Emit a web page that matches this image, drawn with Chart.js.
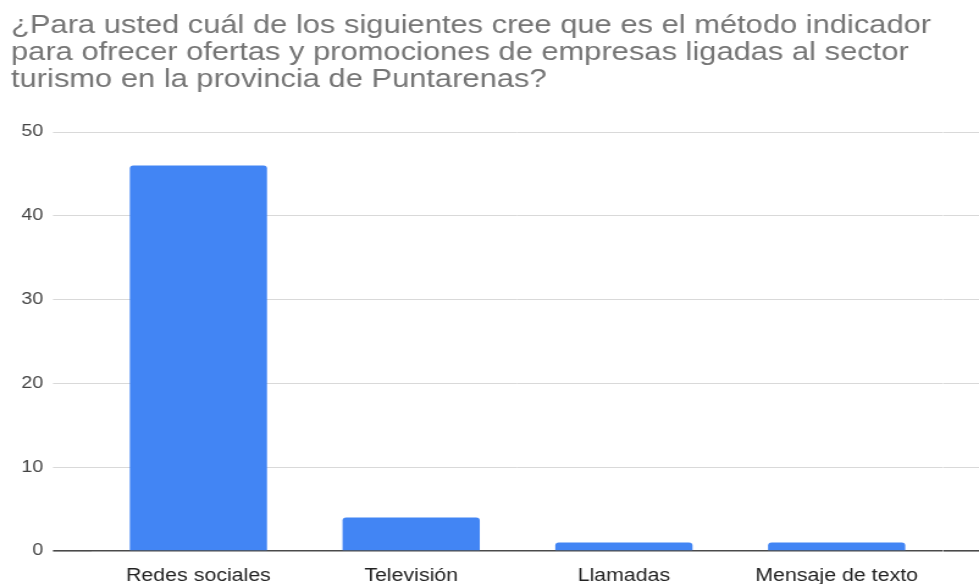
<!DOCTYPE html>
<html>
<head>
<meta charset="utf-8">
<script src="https://cdn.jsdelivr.net/npm/chart.js@4.4.1/dist/chart.umd.min.js"></script>
<style>
    html, body { margin: 0; padding: 0; background: #fff; overflow: hidden; }
    /* the chart is laid out narrower and stretched sideways to fill the page */
    #wrap { width: 802px; height: 584px; position: relative; transform: scaleX(1.2207); transform-origin: 0 0; }
</style>
</head>
<body>
<div id="wrap"><canvas id="metodoChart"></canvas></div>
<script>
const categorias = ['Redes sociales', 'Televisión', 'Llamadas', 'Mensaje de texto'];
const respuestas = [46, 4, 1, 1];
const ticksY = [0, 10, 20, 30, 40, 50];
const tituloLineas = [
    '¿Para usted cuál de los siguientes cree que es el método indicador',
    'para ofrecer ofertas y promociones de empresas ligadas al sector',
    'turismo en la provincia de Puntarenas?'
];

const fuente = '"Liberation Sans", Arial, sans-serif';
// the zero line is darker than the rest of the grid
const esCero = ctx => ctx.tick && ctx.tick.value === 0;
const gridColor = ctx => esCero(ctx) ? '#4a4a4a' : '#d9d9d9';
const gridWidth = ctx => esCero(ctx) ? 1.6 : 1;

document.addEventListener('DOMContentLoaded', function () {
    const ctx = document.getElementById('metodoChart').getContext('2d');

    new Chart(ctx, {
        type: 'bar',
        data: {
            labels: categorias,
            datasets: [{
                data: respuestas,
                backgroundColor: '#4285f4',
                borderRadius: { topLeft: 3, topRight: 3 },
                borderSkipped: 'bottom',
                categoryPercentage: 1,
                barPercentage: 0.645
            }]
        },
        options: {
            responsive: true,
            maintainAspectRatio: false,
            animation: false,
            devicePixelRatio: 1,
            layout: { padding: { left: 9, right: 0, top: 12.5, bottom: 0 } },
            plugins: {
                legend: { display: false },
                tooltip: { enabled: false },
                title: {
                    display: true,
                    text: tituloLineas,
                    align: 'start',
                    color: '#757575',
                    font: { family: fuente, size: 25.3, lineHeight: '27px', weight: 'normal' },
                    padding: { top: 0, bottom: 38.5 }
                }
            },
            scales: {
                x: {
                    grid: { display: false },
                    border: { display: false },
                    ticks: {
                        color: '#222',
                        padding: 7,
                        font: { family: fuente, size: 17.5 }
                    },
                    afterFit: scale => { scale.height = 33; }
                },
                y: {
                    min: 0,
                    max: 50,
                    afterBuildTicks: scale => { scale.ticks = ticksY.map(v => ({ value: v })); },
                    border: { display: false },
                    grid: {
                        color: gridColor, lineWidth: gridWidth,
                        tickColor: gridColor, tickWidth: gridWidth,
                        tickLength: 32, drawTicks: true
                    },
                    ticks: {
                        color: '#444',
                        padding: 8,
                        font: { family: fuente, size: 16 }
                    },
                    afterFit: scale => { scale.width = 66.4; }
                },
                y2: {
                    position: 'right',
                    min: 0,
                    max: 50,
                    afterBuildTicks: scale => { scale.ticks = ticksY.map(v => ({ value: v })); },
                    border: { display: false },
                    grid: {
                        color: gridColor, lineWidth: gridWidth,
                        tickColor: gridColor, tickWidth: gridWidth,
                        tickLength: 29.5, drawOnChartArea: false
                    },
                    ticks: { display: false },
                    afterFit: scale => { scale.width = 29.5; }
                }
            }
        }
    });
});
</script>
</body>
</html>
